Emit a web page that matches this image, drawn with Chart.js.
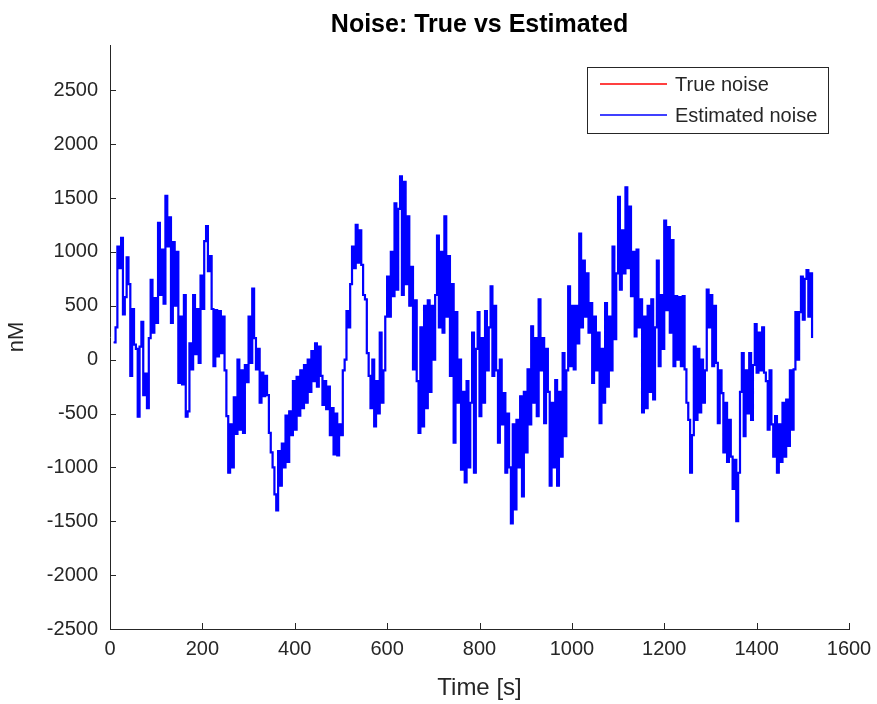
<!DOCTYPE html>
<html>
<head>
<meta charset="utf-8">
<script src="https://cdn.jsdelivr.net/npm/chart.js@4.4.1/dist/chart.umd.min.js"></script>
<style>
  html, body { margin: 0; padding: 0; background: #fff; }
  canvas { display: block; }
</style>
</head>
<body>
<canvas id="noiseChart" width="877" height="704"></canvas>
<script>
var tStart = 8;
var tStep = 4;

var estimatedNoise = [
  160, 300, 1050, 850, 1130, 420, 580, 950, 700, -150,
  470, 140, 100, -530, 120, 350, -330, -130, -450, 200,
  740, 250, 570, 340, 1270, 600, 1020, 520, 1520, 1050,
  1320, 340, 1090, 500, 1000, -215, 400, -230, 600, -530,
  -480, 150, -90, 600, 50, 470, -30, 780, 470, 1100,
  1240, 820, 960, 470, -60, 460, 30, 450, 60, 400,
  -100, -525, -1050, -600, -1000, -350, -690, 0, -650, -100,
  -680, -50, -210, 400, -30, 660, 200, -90, 100, -400,
  -120, -340, -150, -330, -680, -860, -1000, -1250, -1400, -850,
  -1170, -780, -1000, -520, -950, -480, -700, -200, -650, -160,
  -520, -100, -450, -50, -400, 0, -300, 80, -200, 150,
  -250, 120, -150, -420, -200, -460, -250, -700, -450, -880,
  -500, -890, -600, -700, -100, 0, 450, 300, 700, 1050,
  850, 1250, 900, 1200, 880, 600, 560, 60, -150, -450,
  0, -620, -200, -500, 250, -400, -100, 400, 770, 400,
  1000, 590, 1450, 650, 1400, 1700, 600, 1650, 700, 1330,
  500, 860, -90, 550, -200, -680, 300, -620, 500, -450,
  550, -300, 500, 0, 600, 1150, 300, 1000, 250, 1330,
  400, 960, -150, 700, -770, 440, -400, 0, -1020, -300,
  -1140, -200, -1000, -400, 250, -1050, 100, 440, -525, 200,
  -400, 450, -100, 300, 680, -150, 500, -100, -770, 0,
  -600, -310, -1050, -500, -1000, -1520, -600, -1390, -560, -1000,
  -340, -1270, -300, -860, -90, -600, 310, -400, 200, -525,
  560, -100, 200, -590, 100, -300, -1170, -400, -1000, -190,
  -1170, -300, -900, 60, -710, -100, 680, -60, 500, -90,
  500, 150, 1170, 300, 920, 400, 800, 250, 525, -215,
  400, -100, 250, -590, 100, -400, 525, -250, 400, -100,
  1050, 190, 800, 1510, 650, 1200, 800, 1600, 850, 1420,
  590, 1000, 216, 1020, 300, 560, -490, 400, -450, 500,
  -300, 560, -370, 300, 920, -60, 600, 100, 1290, 460,
  1230, 250, 1110, -60, 590, 0, 580, -60, 590, -90,
  -400, -560, -1050, -700, 120, -560, 100, -490, 0, -400,
  -100, 650, 300, 600, -60, 500, -30, -590, -100, -310,
  -860, -400, -950, -560, -900, -1200, -930, -1500, -1050, -300,
  60, -710, -100, -500, 60, -560, -50, 330, -120, 250,
  -100, 300, -120, -200, -650, -100, -600, -900, -525, -1050,
  -600, -950, -400, -900, -370, -800, -100, -650, -90, 440,
  0, 440, 770, 370, 750, 830, 400, 800, 200
];
// the true noise sits right under the estimate (only tiny red bits show)
var trueNoise = estimatedNoise.slice();

var xTicks = [0, 200, 400, 600, 800, 1000, 1200, 1400, 1600];
var yTicks = [-2500, -2000, -1500, -1000, -500, 0, 500, 1000, 1500, 2000, 2500];

var seriesNames = ["True noise", "Estimated noise"];
var seriesColors = ["#ff0000", "#0000ff"];

var textColor = "#262626";
var fontFamily = "'Liberation Sans', Arial, Helvetica, sans-serif";

function toPoints(values) {
  return values.map(function (v, i) {
    return { x: tStart + i * tStep, y: v };
  });
}

// MATLAB style ticks pointing into the axes
var inwardTicks = {
  id: "inwardTicks",
  afterDraw: function (chart) {
    var ctx = chart.ctx;
    var area = chart.chartArea;
    var xs = chart.scales.x;
    var ys = chart.scales.y;
    ctx.save();
    ctx.strokeStyle = textColor;
    ctx.lineWidth = 1;
    ctx.beginPath();
    xTicks.forEach(function (v) {
      var px = Math.round(xs.getPixelForValue(v)) + 0.5;
      ctx.moveTo(px, area.bottom);
      ctx.lineTo(px, area.bottom - 6);
    });
    yTicks.forEach(function (v) {
      var py = Math.round(ys.getPixelForValue(v)) + 0.5;
      ctx.moveTo(area.left, py);
      ctx.lineTo(area.left + 6, py);
    });
    ctx.stroke();
    ctx.restore();
  }
};

// boxed legend in the top right corner
var boxLegend = {
  id: "boxLegend",
  afterDraw: function (chart) {
    var ctx = chart.ctx;
    var x0 = 587, y0 = 67, w = 241, h = 66;
    ctx.save();
    ctx.fillStyle = "#fff";
    ctx.fillRect(x0, y0, w, h);
    ctx.strokeStyle = textColor;
    ctx.lineWidth = 1;
    ctx.strokeRect(x0 + 0.5, y0 + 0.5, w, h);
    ctx.font = "20px " + fontFamily;
    ctx.textBaseline = "middle";
    ctx.textAlign = "left";
    chart.data.datasets.forEach(function (ds, i) {
      var yy = y0 + 17 + i * 31;
      ctx.strokeStyle = ds.borderColor;
      ctx.lineWidth = 1.5;
      ctx.beginPath();
      ctx.moveTo(x0 + 13, yy);
      ctx.lineTo(x0 + 80, yy);
      ctx.stroke();
      ctx.fillStyle = textColor;
      ctx.fillText(ds.label, x0 + 88, yy + 1);
    });
    ctx.restore();
  }
};

var ctx = document.getElementById("noiseChart").getContext("2d");
var noiseChart = new Chart(ctx, {
  type: "line",
  data: {
    datasets: [
      {
        label: seriesNames[0],
        data: toPoints(trueNoise),
        borderColor: seriesColors[0],
        borderWidth: 1,
        pointRadius: 0,
        stepped: true,
        fill: false,
        order: 1
      },
      {
        label: seriesNames[1],
        data: toPoints(estimatedNoise),
        borderColor: seriesColors[1],
        borderWidth: 2.2,
        pointRadius: 0,
        stepped: true,
        fill: false,
        order: 0
      }
    ]
  },
  options: {
    responsive: false,
    animation: false,
    layout: { padding: { top: 0, right: 0, left: 0, bottom: 0 } },
    plugins: {
      legend: { display: false },
      tooltip: { enabled: false },
      title: {
        display: true,
        text: "Noise: True vs Estimated",
        fullSize: false,
        color: "#000",
        font: { family: fontFamily, size: 25, weight: "bold" },
        padding: { top: 10, bottom: 5 }
      }
    },
    scales: {
      x: {
        type: "linear",
        min: 0,
        max: 1600,
        afterBuildTicks: function (scale) {
          scale.ticks = xTicks.map(function (v) { return { value: v }; });
        },
        afterFit: function (scale) {
          scale.height = 75;
          scale.paddingRight = 28;
        },
        grid: { display: true, drawOnChartArea: false, drawTicks: false },
        border: { display: true, color: textColor, width: 1 },
        ticks: {
          color: textColor,
          padding: 8,
          maxRotation: 0,
          font: { family: fontFamily, size: 20 },
          callback: function (v) { return String(v); }
        },
        title: {
          display: true,
          text: "Time [s]",
          color: textColor,
          font: { family: fontFamily, size: 24 },
          padding: { top: 0, bottom: 1 }
        }
      },
      y: {
        type: "linear",
        min: -2500,
        max: 2920,
        afterBuildTicks: function (scale) {
          scale.ticks = yTicks.map(function (v) { return { value: v }; });
        },
        afterFit: function (scale) { scale.width = 110; },
        grid: { display: true, drawOnChartArea: false, drawTicks: false },
        border: { display: true, color: textColor, width: 1 },
        ticks: {
          color: textColor,
          padding: 12,
          font: { family: fontFamily, size: 20 },
          callback: function (v) { return String(v); }
        },
        title: {
          display: true,
          text: "nM",
          color: textColor,
          font: { family: fontFamily, size: 22 },
          padding: { top: 4, bottom: 0 }
        }
      }
    }
  },
  plugins: [inwardTicks, boxLegend]
});
</script>
</body>
</html>
